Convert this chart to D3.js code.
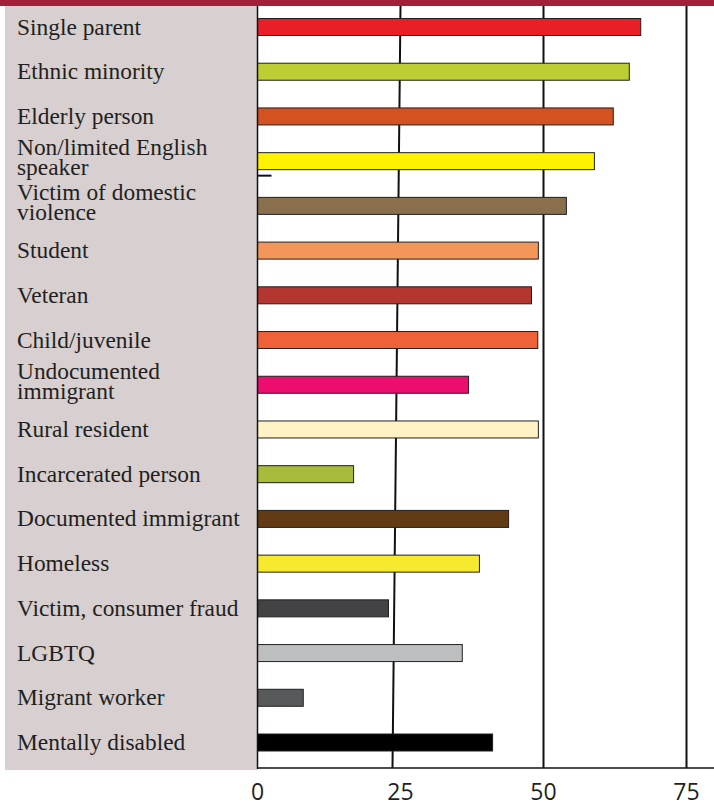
<!DOCTYPE html>
<html>
<head>
<meta charset="utf-8">
<script src="https://cdn.jsdelivr.net/npm/d3@7"></script>
<style>
  html, body { margin: 0; padding: 0; background: #fff; }
  svg { display: block; }
</style>
</head>
<body>
<svg></svg>
<script>
var width = 714;
var height = 806;
var plotTop = 6;
var plotBottom = 768;
var panelLeft = 5;
var barHeight = 17;
var labelFont = "'Liberation Serif', 'DejaVu Serif', serif";
var tickFont = "'Open Sans', 'Noto Sans', sans-serif";

// each category is a list of label lines
var categories = [
    ["Single parent"],
    ["Ethnic minority"],
    ["Elderly person"],
    ["Non/limited English", "speaker"],
    ["Victim of domestic", "violence"],
    ["Student"],
    ["Veteran"],
    ["Child/juvenile"],
    ["Undocumented", "immigrant"],
    ["Rural resident"],
    ["Incarcerated person"],
    ["Documented immigrant"],
    ["Homeless"],
    ["Victim, consumer fraud"],
    ["LGBTQ"],
    ["Migrant worker"],
    ["Mentally disabled"]
];
var values = [67, 65, 62.2, 58.9, 54, 49.1, 47.9, 49, 36.9, 49.1, 16.8, 43.9, 38.8, 22.9, 35.8, 8, 41.1];
var barColors = ["#e81f27", "#bdcd34", "#d4521f", "#fff200", "#8a6f4c", "#f4955a", "#b43631", "#ef6138",
                 "#ec0d6f", "#fff2c4", "#a8bb3b", "#623a14", "#f7ea2e", "#434345", "#bdbec0", "#58595b", "#000000"];
var ticks = [0, 25, 50, 75];

var svg = d3.select("svg")
    .attr("width", width)
    .attr("height", height);

var x = d3.scaleLinear()
    .domain([0, 75])
    .range([257.5, 686.5]);

var y = d3.scalePoint()
    .domain(d3.range(categories.length))
    .range([27, 742.5]);

// top strip
svg.append("rect")
    .attr("x", 0).attr("y", 0)
    .attr("width", width).attr("height", plotTop)
    .attr("fill", "#a3203a");

// label panel
svg.append("rect")
    .attr("x", panelLeft).attr("y", plotTop)
    .attr("width", x(0) - panelLeft).attr("height", plotBottom - plotTop + 2)
    .attr("fill", "#d7cfd0");

// gridlines (the 25 line leans a little in the original print)
var lean = {25: -8};
svg.append("g")
    .selectAll("line")
    .data(ticks.slice(1))
    .enter()
    .append("line")
    .attr("x1", function(d) { return x(d); })
    .attr("x2", function(d) { return x(d) + (lean[d] || 0); })
    .attr("y1", plotTop)
    .attr("y2", plotBottom)
    .attr("stroke", "#111")
    .attr("stroke-width", 2);

// bars
svg.append("g")
    .selectAll("rect")
    .data(values)
    .enter()
    .append("rect")
    .attr("x", x(0))
    .attr("y", function(d, i) { return y(i) - barHeight / 2; })
    .attr("width", function(d) { return x(d) - x(0); })
    .attr("height", barHeight)
    .attr("fill", function(d, i) { return barColors[i]; })
    .attr("stroke", "#231f20")
    .attr("stroke-width", 1);

// axis lines
svg.append("line")
    .attr("x1", x(0)).attr("x2", x(0))
    .attr("y1", plotTop).attr("y2", plotBottom + 1)
    .attr("stroke", "#111").attr("stroke-width", 1.5);
svg.append("line")
    .attr("x1", x(0)).attr("x2", width)
    .attr("y1", plotBottom).attr("y2", plotBottom)
    .attr("stroke", "#111").attr("stroke-width", 1.5);

// stray tick under the "speaker" row
svg.append("line")
    .attr("x1", x(0)).attr("x2", x(0) + 14)
    .attr("y1", y(3) + barHeight / 2 + 6).attr("y2", y(3) + barHeight / 2 + 6)
    .attr("stroke", "#111").attr("stroke-width", 2);

// category labels
var labels = svg.append("g")
    .attr("font-family", labelFont)
    .attr("font-size", 23.4)
    .attr("fill", "#231f20");
labels.selectAll("text")
    .data(categories)
    .enter()
    .append("text")
    .attr("x", 17)
    .each(function(lines, i) {
        var base = lines.length === 1 ? y(i) + 7.5 : y(i) - 6;
        d3.select(this).selectAll("tspan")
            .data(lines)
            .enter()
            .append("tspan")
            .attr("x", 17)
            .attr("y", function(line, j) { return base + j * 20; })
            .text(function(line) { return line; });
    });

// tick labels
svg.append("g")
    .attr("font-family", tickFont)
    .attr("font-size", 23)
    .attr("fill", "#231f20")
    .selectAll("text")
    .data(ticks)
    .enter()
    .append("text")
    .attr("x", function(d) { return x(d); })
    .attr("y", 800)
    .attr("text-anchor", "middle")
    .text(function(d) { return d; });
</script>
</body>
</html>
